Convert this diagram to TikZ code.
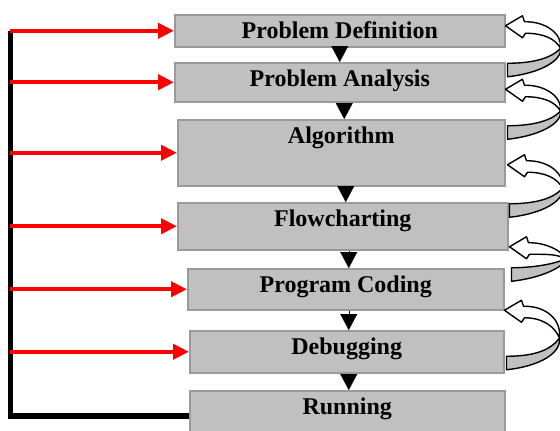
\documentclass[tikz,border=0pt]{standalone}
\usepackage{fontspec}
\setmainfont{Liberation Serif}
\usepackage{tikz}
\usepackage{xcolor}
\usetikzlibrary{arrows.meta, calc}
\definecolor{boxgray}{RGB}{192, 192, 192}
\definecolor{boxedge}{RGB}{154, 154, 154}
\definecolor{feedred}{RGB}{255, 0, 0}
\tikzset{
    stage/.style={draw=boxedge, fill=boxgray, line width=1.5pt, anchor=north west,
        inner sep=0pt, text height=24pt, font=\fontsize{24}{28}\selectfont\bfseries},
    rail/.style={line width=5.5pt, black},
    feed/.style={draw=feedred, line width=4pt, -{Triangle[length=16pt, width=15pt]}},
    down/.style={line width=0.1pt, black, -{Triangle[length=16pt, width=17pt]}},
    loopline/.style={draw=black, line width=1.4pt, line join=round},
    pics/loopback/.style={code={
        \filldraw[loopline, fill=white] (0,0) -- (17,-10) -- (19,-4)
            .. controls (40,-4.5) and (57,8) .. (55,{0.6*#1})
            .. controls (50,{0.35*#1}) and (38,7.5) .. (20,7.5) -- (17,12) -- cycle;
        \filldraw[loopline, fill=boxgray] (55,{0.6*#1})
            .. controls (45,{#1-4}) and (25,#1) .. (2,#1) -- (2,{#1+13.5})
            .. controls (35,{#1+10}) and (57,{#1-3}) .. (55,{0.6*#1}) -- cycle;
    }}
}

\begin{document}
\begin{tikzpicture}[x=1pt, y=-1pt]
    \useasboundingbox (0,0) rectangle (560,431);
    % program development steps
    \node[stage, minimum width=330pt, text depth=8pt]  (def)  at (174,14)  {Problem Definition};
    \node[stage, minimum width=330pt, text depth=15pt] (ana)  at (174,62)  {Problem Analysis};
    \node[stage, minimum width=327pt, text depth=42pt] (alg)  at (177,119) {Algorithm};
    \node[stage, minimum width=330pt, text depth=23pt] (flow) at (177,202) {Flowcharting};
    \node[stage, minimum width=316pt, text depth=17pt] (code) at (187,268) {Program Coding};
    \node[stage, minimum width=314pt, text depth=18pt] (dbg)  at (189,330) {Debugging};
    \node[stage, minimum width=315pt, text depth=18pt] (run)  at (189,390) {Running};

    % downward steps
    \draw[down] (def.south) -- (def.south |- ana.north);
    \draw[down] ([xshift=4.5pt]ana.south) -- ([xshift=4.5pt]ana.south |- alg.north);
    \draw[down] ([xshift=4.5pt]alg.south) -- ([xshift=4.5pt]alg.south |- flow.north);
    \draw[down] ([xshift=6pt]flow.south) -- ([xshift=6pt]flow.south |- code.north);
    \draw[down] ([xshift=3pt]code.south) -- ([xshift=3pt]code.south |- dbg.north);
    \draw[down] ([xshift=2pt]dbg.south) -- ([xshift=2pt]dbg.south |- run.north);

    % return path from running
    \coordinate (corner) at (10.3,416);
    \draw[rail] (run.west |- corner) -- (corner) -- (corner |- def.west);
    \foreach \b in {def, ana, alg, flow, code, dbg}
        \draw[feed] (corner |- \b.west) -- (\b.west);

    % curved feedback arrows
    \pic at ([yshift=5pt]def.east) {loopback=37.5};
    \pic at ([yshift=-7pt]ana.east) {loopback=36.5};
    \pic at ([xshift=2pt, yshift=-12pt]alg.east) {loopback=39};
    \pic at ([xshift=1pt, yshift=-20.5pt]flow.east) {loopback=21};
    \pic at ([yshift=-21pt]code.east) {loopback=46};
\end{tikzpicture}
\end{document}
